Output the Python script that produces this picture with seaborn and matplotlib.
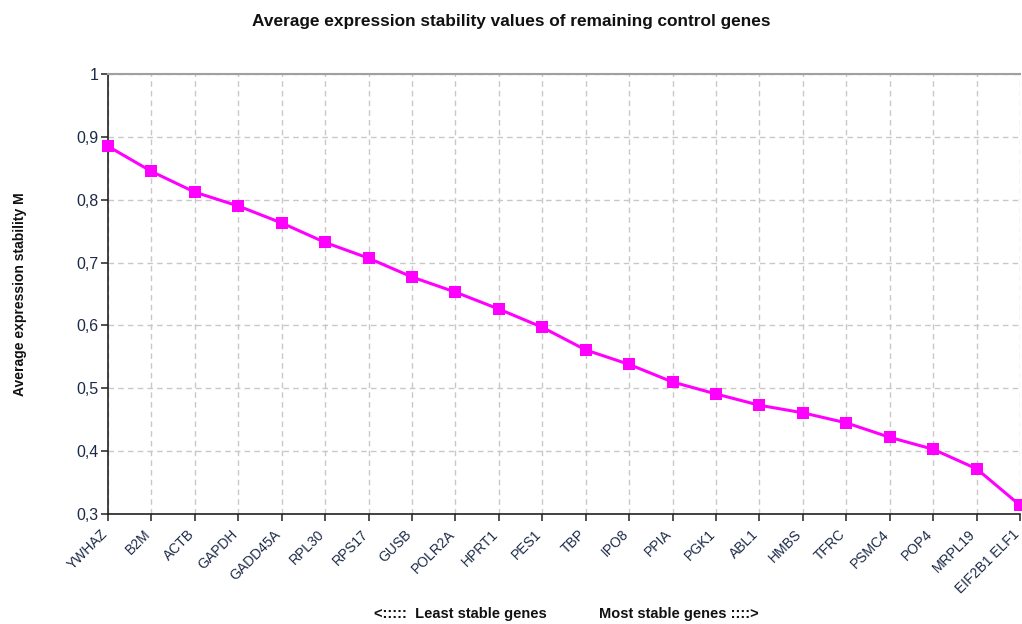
import matplotlib
matplotlib.use("Agg")
import matplotlib.pyplot as plt
import matplotlib.transforms as mtransforms
import seaborn as sns
import pandas as pd
from matplotlib.ticker import FuncFormatter, FixedLocator

genes = ["YWHAZ", "B2M", "ACTB", "GAPDH", "GADD45A", "RPL30", "RPS17", "GUSB",
         "POLR2A", "HPRT1", "PES1", "TBP", "IPO8", "PPIA", "PGK1", "ABL1",
         "HMBS", "TFRC", "PSMC4", "POP4", "MRPL19", "EIF2B1 ELF1"]
m_values = [0.885, 0.845, 0.812, 0.790, 0.763, 0.732, 0.707, 0.677,
            0.653, 0.626, 0.597, 0.561, 0.538, 0.510, 0.491, 0.473,
            0.461, 0.445, 0.422, 0.403, 0.372, 0.314]
y_ticks = [0.3, 0.4, 0.5, 0.6, 0.7, 0.8, 0.9, 1.0]

sns.set_style("white")
plt.rcParams['font.family'] = ['Liberation Sans', 'DejaVu Sans']

df = pd.DataFrame({"pos": range(len(genes)), "gene": genes, "M": m_values})

fig = plt.figure(figsize=(10.22, 6.24), dpi=100)
ax = fig.add_axes([0.1057, 0.1763, 0.8923, 0.7051])

sns.lineplot(data=df, x="pos", y="M", ax=ax, color="#FF00FF", linewidth=2.2,
             marker="s", markersize=8, markeredgewidth=0, clip_on=False, zorder=5)

ax.set_xlim(0, len(genes) - 1)
ax.set_ylim(0.3, 1.0)
ax.xaxis.set_major_locator(FixedLocator(list(range(len(genes)))))
ax.set_xticklabels([])
offset = mtransforms.ScaledTranslation(-3 / 100, -18 / 100, fig.dpi_scale_trans)
label_tf = ax.get_xaxis_transform() + offset
for i, g in enumerate(genes):
    ax.text(i, 0, g, transform=label_tf, rotation=45, rotation_mode="anchor",
            ha="right", va="center", fontsize=10, color="#1c2a48", clip_on=False)

ax.yaxis.set_major_locator(FixedLocator(y_ticks))
ax.yaxis.set_major_formatter(FuncFormatter(
    lambda v, p: "1" if abs(v - 1) < 1e-9 else f"{v:.1f}".replace(".", ",")))
for lab in ax.get_yticklabels():
    lab.set_fontsize(11.5)
    lab.set_color("#1c2a48")

ax.grid(True, which="major", axis="both", color="#c8c8c8", linestyle=(0, (4, 3)),
        linewidth=1.0)
ax.set_axisbelow(True)

for side in ["left", "bottom"]:
    ax.spines[side].set_visible(True)
    ax.spines[side].set_color("#222222")
    ax.spines[side].set_linewidth(1.2)
ax.spines["top"].set_visible(True)
ax.spines["top"].set_color("#a0a0a0")
ax.spines["top"].set_linewidth(1.5)
ax.spines["right"].set_visible(False)

ax.tick_params(axis="both", direction="out", length=5, width=1.1, color="#222222",
               bottom=True, left=True)
ax.tick_params(axis="y", pad=2)

ax.set_xlabel("")
ax.set_ylabel("Average expression stability M", fontsize=10, fontweight="bold",
              color="#111111")
ax.yaxis.set_label_coords(-0.089, 0.5)

fig.text(0.5, 0.965, "Average expression stability values of remaining control genes",
         ha="center", va="center", fontsize=12.4, fontweight="bold", color="#111111")
fig.text(0.535, 0.016, "<:::::  Least stable genes", ha="right", va="center",
         fontsize=10.5, fontweight="bold", color="#111111")
fig.text(0.586, 0.016, "Most stable genes ::::>", ha="left", va="center",
         fontsize=10.5, fontweight="bold", color="#111111")

fig.savefig("out.png", dpi=100)
